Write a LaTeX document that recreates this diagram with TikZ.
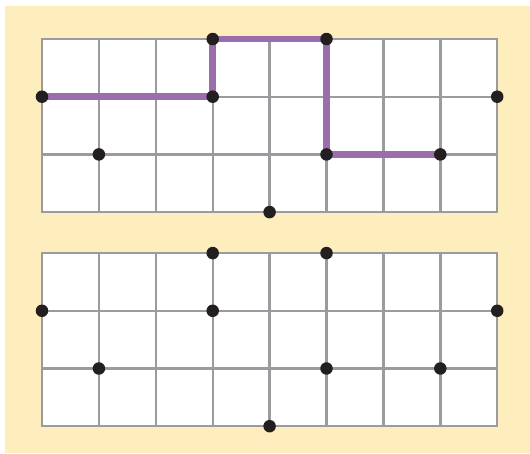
\documentclass[tikz,border=0pt]{standalone}
\usepackage{tikz}
\usetikzlibrary{positioning}

\definecolor{paper}{HTML}{FEEEBD}
\definecolor{gridgray}{HTML}{9A9B9F}
\definecolor{route}{HTML}{9B6DAD}
\definecolor{pin}{HTML}{231F20}

\begin{document}
\begin{tikzpicture}[x=1cm, y=1.014cm,
  sheet/.style={fill=white, draw=gridgray, line width=1.2pt},
  rule/.style={gridgray, line width=1.2pt},
  dot/.style={circle, fill=pin, inner sep=0pt, minimum size=0.22cm},
  walk/.style={route, line width=3.3pt}
]
\useasboundingbox (-0.738,0.676) rectangle (8.576,-7.19);
\fill[paper] (-0.650,0.572) rectangle (8.576,-7.175);

% the two sheets
\foreach \top in {0,-3.71} {
  \draw[sheet] (0,\top) rectangle (8,\top-3);
  \foreach \i in {1,...,7}
    \draw[rule] (\i,\top) -- (\i,\top-3);
  \foreach \j in {1,2}
    \draw[rule] (0,\top-\j) -- (8,\top-\j);
}

% top sheet points
\coordinate (a1) at (0,-1);
\coordinate (a2) at (1,-2);
\coordinate (a3) at (3,0);
\coordinate (a4) at (3,-1);
\coordinate (a5) at (5,0);
\coordinate (a6) at (5,-2);
\coordinate (a7) at (7,-2);
\coordinate (a8) at (8,-1);
\coordinate (a9) at (4,-3);

% bottom sheet points
\coordinate (b1) at (0,-4.71);
\coordinate (b2) at (1,-5.71);
\coordinate (b3) at (3,-3.71);
\coordinate (b4) at (3,-4.71);
\coordinate (b5) at (5,-3.71);
\coordinate (b6) at (5,-5.71);
\coordinate (b7) at (7,-5.71);
\coordinate (b8) at (8,-4.71);
\coordinate (b9) at (4,-6.71);

\draw[walk] (a1) -- (a4) -- (a3) -- (a5) -- (a6) -- (a7);

\foreach \p in {a1,a2,a3,a4,a5,a6,a7,a8,a9,b1,b2,b3,b4,b5,b6,b7,b8,b9}
  \node[dot] (n\p) at (\p) {};

\end{tikzpicture}
\end{document}
